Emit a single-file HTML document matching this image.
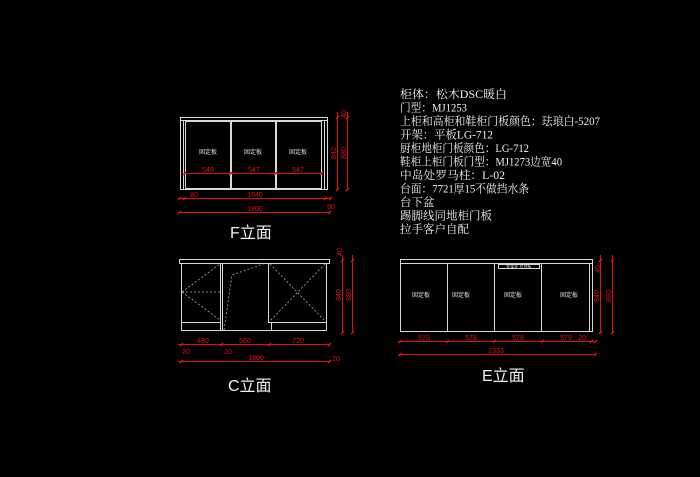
<!DOCTYPE html>
<html><head><meta charset="utf-8"><style>
html,body{margin:0;padding:0;background:#000;}
svg{display:block;}
</style></head><body>
<svg width="700" height="477" viewBox="0 0 700 477" xmlns="http://www.w3.org/2000/svg">
<rect width="700" height="477" fill="#000"/>
<g fill="none" stroke="#d8d8d8" stroke-width="1">
<rect x="180.5" y="117.5" width="147" height="72"/>
<line x1="180" y1="120.5" x2="327" y2="120.5"/>
<rect x="185.5" y="121.5" width="45" height="67"/>
<rect x="231.5" y="121.5" width="44" height="67"/>
<rect x="276.5" y="121.5" width="45" height="67"/>
<line x1="183.5" y1="120" x2="183.5" y2="189"/>
<line x1="324.5" y1="120" x2="324.5" y2="189"/>
<rect x="179.5" y="259.5" width="150" height="4"/>
<line x1="181.5" y1="263" x2="181.5" y2="331"/>
<line x1="326.5" y1="263" x2="326.5" y2="331"/>
<line x1="181" y1="330.5" x2="327" y2="330.5"/>
<line x1="220.5" y1="263" x2="220.5" y2="331"/>
<line x1="222.5" y1="263" x2="222.5" y2="331"/>
<line x1="268.5" y1="263" x2="268.5" y2="322"/>
<line x1="182" y1="322.5" x2="221" y2="322.5"/>
<line x1="268" y1="322.5" x2="326" y2="322.5"/>
<line x1="271.5" y1="322" x2="271.5" y2="331"/>
</g>
<g fill="none" stroke="#aaa" stroke-width="0.8" stroke-dasharray="2,2">
<line x1="182" y1="292" x2="220" y2="292"/>
<line x1="182" y1="292" x2="220" y2="264"/>
<line x1="182" y1="292" x2="220" y2="320"/>
<polyline points="224,330 232,275 266,263"/>
<line x1="270" y1="264" x2="325" y2="321"/>
<line x1="325" y1="264" x2="270" y2="321"/>
</g>
<g fill="none" stroke="#d8d8d8" stroke-width="1">
<rect x="400.5" y="259.5" width="192" height="72"/>
<line x1="400" y1="263.5" x2="592" y2="263.5"/>
<line x1="447.5" y1="263" x2="447.5" y2="331"/>
<line x1="494.5" y1="263" x2="494.5" y2="331"/>
<line x1="541.5" y1="263" x2="541.5" y2="331"/>
<line x1="589.5" y1="263" x2="589.5" y2="331"/>
<rect x="498.5" y="264.5" width="41" height="4"/>
</g>
<g font-family="'Liberation Sans','Noto Sans CJK SC',sans-serif" font-size="6" fill="#ddd" text-anchor="middle">
<text x="208" y="154">固定板</text><text x="253" y="154">固定板</text><text x="298" y="154">固定板</text>
<text x="421" y="297">固定板</text><text x="461" y="297">固定板</text><text x="513" y="297">固定板</text><text x="569" y="297">固定板</text>
<text x="519" y="268" font-size="4">柜架柜 拉把板</text>
</g>
<g stroke="#e01010" stroke-width="1" fill="none">
<line x1="184" y1="173.5" x2="322" y2="173.5"/>
<line x1="178" y1="198.5" x2="330" y2="198.5"/>
<line x1="178" y1="212.5" x2="330" y2="212.5"/>
<line x1="337.5" y1="112" x2="337.5" y2="190"/>
<line x1="347.5" y1="112" x2="347.5" y2="190"/>
<line x1="178" y1="344.5" x2="330" y2="344.5"/>
<line x1="178" y1="361.5" x2="330" y2="361.5"/>
<line x1="342.5" y1="255" x2="342.5" y2="332"/>
<line x1="352.5" y1="255" x2="352.5" y2="332"/>
<line x1="398" y1="341.5" x2="594" y2="341.5"/>
<line x1="398" y1="354.5" x2="594" y2="354.5"/>
<line x1="600.5" y1="255" x2="600.5" y2="332"/>
<line x1="612.5" y1="255" x2="612.5" y2="332"/>
</g>
<g stroke="#e01010" stroke-width="1.5">
<path d="M183 175l3-3M229 175l3-3M274 175l3-3M320 175l3-3"/>
<path d="M178 200l3-3M183 200l3-3M324 200l3-3M329 200l3-3M178 214l3-3M328 214l3-3"/>
<path d="M336 119l3-3M346 119l3-3M336 191l3-3M346 191l3-3"/>
<path d="M180 346l3-3M220 346l3-3M268 346l3-3M328 346l3-3M180 363l3-3M328 363l3-3"/>
<path d="M341 262l3-3M351 262l3-3M341 334l3-3M351 334l3-3"/>
<path d="M399 343l3-3M446 343l3-3M493 343l3-3M541 343l3-3M590 343l3-3M594 343l3-3M399 356l3-3M594 356l3-3"/>
<path d="M599 262l3-3M611 262l3-3M599 334l3-3M611 334l3-3"/>
</g>
<g font-family="'Liberation Sans',sans-serif" font-size="7" fill="#e01010" text-anchor="middle">
<text x="208" y="172">546</text><text x="254" y="172">547</text><text x="298" y="172">547</text>
<text x="194" y="197">80</text><text x="255" y="197">1640</text><text x="331" y="209">80</text>
<text x="255" y="211">1800</text>
<text x="346" y="114" transform="rotate(-90 346 114)">40</text>
<text x="336" y="153" transform="rotate(-90 336 153)">842</text>
<text x="346" y="153" transform="rotate(-90 346 153)">880</text>
<text x="203" y="343">480</text><text x="245" y="343">560</text><text x="298" y="343">720</text>
<text x="186" y="354">20</text><text x="228" y="354">20</text>
<text x="256" y="360">1800</text><text x="336" y="361">20</text>
<text x="342" y="252" transform="rotate(-90 342 252)">40</text>
<text x="341" y="295" transform="rotate(-90 341 295)">840</text>
<text x="351" y="295" transform="rotate(-90 351 295)">880</text>
<text x="424" y="340">578</text><text x="471" y="340">578</text><text x="518" y="340">578</text><text x="566" y="340">579</text><text x="582" y="340">20</text>
<text x="496" y="353">2333</text>
<text x="600" y="269" transform="rotate(-90 600 269)">40</text>
<text x="599" y="296" transform="rotate(-90 599 296)">840</text>
<text x="611" y="296" transform="rotate(-90 611 296)">880</text>
</g>
<g font-family="'Liberation Sans','Noto Sans CJK SC',sans-serif" font-size="16" fill="#f0f0f0">
<text x="230" y="238">F立面</text>
<text x="228" y="391">C立面</text>
<text x="482" y="381">E立面</text>
</g>
<g font-family="'Liberation Serif','Noto Serif CJK SC',serif" font-size="11.5" fill="#f0f0f0" lengthAdjust="spacingAndGlyphs">
<text x="400" y="98" textLength="107" lengthAdjust="spacingAndGlyphs">柜体：松木DSC暖白</text>
<text x="400" y="111.5" textLength="67" lengthAdjust="spacingAndGlyphs">门型：MJ1253</text>
<text x="400" y="125" textLength="200" lengthAdjust="spacingAndGlyphs">上柜和高柜和鞋柜门板颜色：珐琅白-5207</text>
<text x="400" y="138.5" textLength="93" lengthAdjust="spacingAndGlyphs">开架：平板LG-712</text>
<text x="400" y="152" textLength="129" lengthAdjust="spacingAndGlyphs">厨柜地柜门板颜色：LG-712</text>
<text x="400" y="165.5" textLength="162" lengthAdjust="spacingAndGlyphs">鞋柜上柜门板门型：MJ1273边宽40</text>
<text x="400" y="179" textLength="105" lengthAdjust="spacingAndGlyphs">中岛处罗马柱：L-02</text>
<text x="400" y="192.5" textLength="129" lengthAdjust="spacingAndGlyphs">台面：7721厚15不做挡水条</text>
<text x="400" y="206">台下盆</text>
<text x="400" y="219.5">踢脚线同地柜门板</text>
<text x="400" y="233">拉手客户自配</text>
</g>
</svg>
</body></html>
